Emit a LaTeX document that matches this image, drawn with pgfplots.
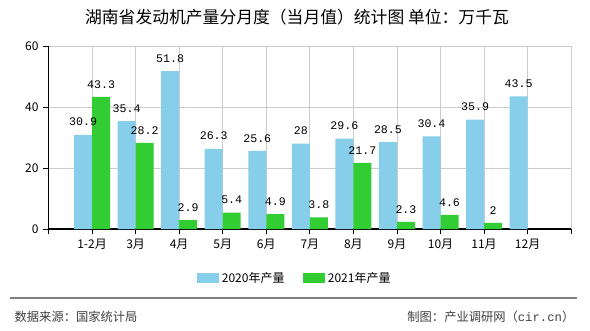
\documentclass[border=0pt]{standalone}
\usepackage{pgfplots}
\pgfplotsset{compat=1.18}
\usepackage{fontspec}
\setmainfont{Noto Sans CJK SC}
\newfontfamily\monofont{Liberation Mono}
\definecolor{cblue}{HTML}{87CEEB}
\definecolor{cgreen}{HTML}{32CD32}
\definecolor{cgrid}{HTML}{CCCCCC}
\begin{document}
\begin{tikzpicture}[x=0.75pt,y=0.75pt]
\useasboundingbox (0,0) rectangle (590,330);
\fill[white] (0,0) rectangle (590,330);
\node[font=\fontsize{12.6pt}{14pt}\selectfont, anchor=center] at (297,313) {湖南省发动机产量分月度（当月值）统计图 单位：万千瓦};
\begin{axis}[
  at={(36.375pt,75.75pt)}, anchor=south west,
  scale only axis, width=392pt, height=137.25pt,
  xmin=-1, xmax=11, ymin=0, ymax=60,
  xtick={-1,0,...,11},
  xticklabels={{},1-2月,3月,4月,5月,6月,7月,8月,9月,10月,11月,12月,{}},
  ytick={0,20,40,60},
  axis x line=bottom, axis y line=left,
  axis line style={-, black, line width=0.8pt},
  tick style={black, line width=0.6pt},
  major tick length=4pt,
  tick align=outside,
  grid=major, grid style={cgrid, line width=0.6pt},
  ticklabel style={font=\fontsize{9pt}{10pt}\selectfont},
  /pgf/number format/assume math mode=true,
  ybar=0pt, bar width=13.5pt,
  nodes near coords,
  every node near coord/.append style={font=\monofont\fontsize{8.7pt}{10pt}\selectfont, black, yshift=3pt},
  legend style={at={(0.472,-0.268)}, anchor=center, draw=none, fill=none, legend columns=2,
    font=\fontsize{9pt}{10pt}\selectfont, /tikz/every even column/.append style={column sep=12pt}},
  legend image code/.code={\fill[#1] (0pt,-3.75pt) rectangle (16.5pt,3.75pt);},
  clip=false,
]
\addplot[fill=cblue, draw=none] coordinates {(0,30.9) (1,35.4) (2,51.8) (3,26.3) (4,25.6) (5,28) (6,29.6) (7,28.5) (8,30.4) (9,35.9) (10,43.5)};
\addplot[fill=cgreen, draw=none] coordinates {(0,43.3) (1,28.2) (2,2.9) (3,5.4) (4,4.9) (5,3.8) (6,21.7) (7,2.3) (8,4.6) (9,2)};
\legend{2020年产量,2021年产量}
\end{axis}
\draw[gray, line width=0.8pt] (10,32) -- (577,32);
\node[anchor=west, font=\fontsize{9.2pt}{11pt}\selectfont, text=black!75] at (10,13) {数据来源：国家统计局};
\node[anchor=east, font=\fontsize{9.2pt}{11pt}\selectfont, text=black!75] at (579,13) {制图：产业调研网（{\monofont cir.cn}）};
\end{tikzpicture}
\end{document}
